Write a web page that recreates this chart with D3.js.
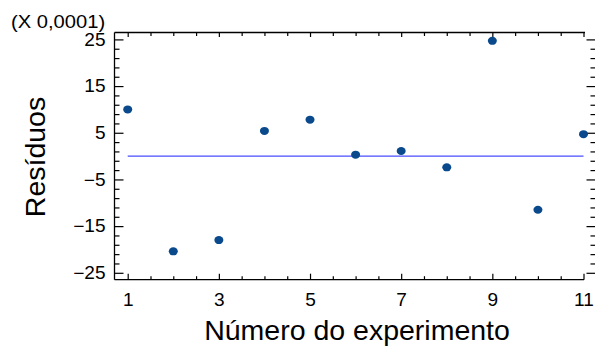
<!DOCTYPE html>
<html>
<head>
<meta charset="utf-8">
<script src="https://cdn.jsdelivr.net/npm/d3@7"></script>
<style>
  html, body { margin: 0; padding: 0; background: #fff; }
  svg { display: block; }
  text { font-family: "Liberation Sans", Arial, sans-serif; fill: #000; }
</style>
</head>
<body>
<svg id="chart" width="595" height="347"></svg>
<script>
// ---- data ----
const experiments = [1, 2, 3, 4, 5, 6, 7, 8, 9, 10, 11];
const residuals = [10.0, -20.4, -18.0, 5.4, 7.8, 0.3, 1.1, -2.4, 24.7, -11.5, 4.7];
const xTickLabels = [1, 3, 5, 7, 9, 11];
const yTickLabels = [-25, -15, -5, 5, 15, 25];
const scaleNote = "(X 0,0001)";
const xTitle = "Número do experimento";
const yTitle = "Resíduos";

// ---- layout ----
const svg = d3.select("#chart");
const frameLeft = 114.5, frameTop = 32.5, frameBottom = 279.7, frameRight = 595.5;
const x = d3.scaleLinear().domain([1, 11]).range([127.7, 583.5]);
const y = d3.scaleLinear().domain([-25, 25]).range([272.8, 39.4]);

const xMinor = d3.range(1, 11.01, 0.5).filter(v => !xTickLabels.includes(v));
const yMinor = d3.range(-25, 25.01, 2).filter(v => !yTickLabels.includes(v));

const tickFont = 17.5, stretch = 1.09;

function styleAxis(g) {
  g.select(".domain").remove();
  g.selectAll(".tick line").attr("stroke", "#000").attr("stroke-width", 1.2);
  g.selectAll(".tick text")
    .style("font-family", '"Liberation Sans", Arial, sans-serif')
    .style("font-size", tickFont + "px")
    .attr("fill", "#000");
}

// left axis
const gl = svg.append("g").attr("transform", `translate(${frameLeft},0)`);
gl.call(d3.axisLeft(y).tickValues(yTickLabels).tickSize(-9).tickPadding(9).tickFormat(d3.format("d"))).call(styleAxis);
gl.selectAll(".tick text").each(function() {
  const t = d3.select(this);
  const xx = +t.attr("x");
  t.attr("x", 0).attr("transform", `translate(${xx},0) scale(${stretch},1)`);
});
svg.append("g").attr("transform", `translate(${frameLeft},0)`)
  .call(d3.axisLeft(y).tickValues(yMinor).tickSize(-5).tickFormat("")).call(styleAxis);

// right axis (ticks only)
svg.append("g").attr("transform", `translate(${frameRight},0)`)
  .call(d3.axisRight(y).tickValues(yTickLabels).tickSize(-9).tickFormat("")).call(styleAxis);
svg.append("g").attr("transform", `translate(${frameRight},0)`)
  .call(d3.axisRight(y).tickValues(yMinor).tickSize(-5).tickFormat("")).call(styleAxis);

// bottom axis
const gb = svg.append("g").attr("transform", `translate(0,${frameBottom})`);
gb.call(d3.axisBottom(x).tickValues(xTickLabels).tickSize(-6).tickPadding(14).tickFormat(d3.format("d"))).call(styleAxis);
gb.selectAll(".tick text").each(function() {
  const t = d3.select(this);
  const yy = +t.attr("y");
  t.attr("y", 0).attr("transform", `translate(0,${yy}) scale(${stretch},1)`);
});
svg.append("g").attr("transform", `translate(0,${frameBottom})`)
  .call(d3.axisBottom(x).tickValues(xMinor).tickSize(-3.5).tickFormat("")).call(styleAxis);

// top axis (ticks only)
svg.append("g").attr("transform", `translate(0,${frameTop})`)
  .call(d3.axisTop(x).tickValues(xTickLabels).tickSize(-4.5).tickFormat("")).call(styleAxis);
svg.append("g").attr("transform", `translate(0,${frameTop})`)
  .call(d3.axisTop(x).tickValues(xMinor).tickSize(-3.5).tickFormat("")).call(styleAxis);

// frame lines
const frame = svg.append("g").attr("stroke", "#000").attr("stroke-width", 1.3);
frame.append("line").attr("x1", frameLeft).attr("x2", frameLeft).attr("y1", frameTop).attr("y2", frameBottom);
frame.append("line").attr("x1", frameLeft).attr("x2", 585).attr("y1", frameTop).attr("y2", frameTop);
frame.append("line").attr("x1", frameLeft).attr("x2", 584).attr("y1", frameBottom).attr("y2", frameBottom);

// zero reference line
svg.append("line")
  .attr("x1", x(experiments[0])).attr("x2", x(experiments[experiments.length - 1]))
  .attr("y1", y(0)).attr("y2", y(0))
  .attr("stroke", "#4a4cff").attr("stroke-width", 1.4);

// points
svg.append("g").selectAll("ellipse")
  .data(experiments.map((e, i) => ({ e, r: residuals[i] })))
  .join("ellipse")
  .attr("cx", d => x(d.e)).attr("cy", d => y(d.r))
  .attr("rx", 4.5).attr("ry", 4)
  .attr("fill", "#0a4a8c");

// scale note
svg.append("text")
  .attr("transform", `translate(11,27.5) scale(1.12,1)`)
  .style("font-size", "18px")
  .text(scaleNote);

// titles
svg.append("text")
  .attr("transform", `translate(45,157) rotate(-90)`)
  .attr("text-anchor", "middle")
  .style("font-size", "28.5px")
  .text(yTitle);

svg.append("text")
  .attr("x", 357).attr("y", 340)
  .attr("text-anchor", "middle")
  .style("font-size", "28.5px")
  .text(xTitle);
</script>
</body>
</html>
